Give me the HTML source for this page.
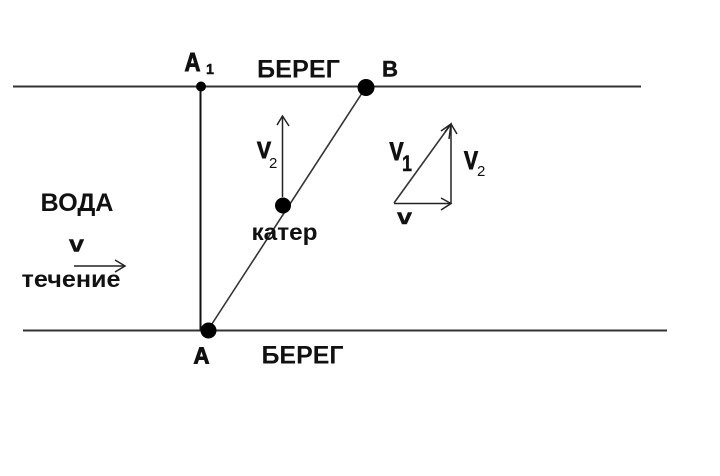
<!DOCTYPE html>
<html><head><meta charset="utf-8">
<style>
html,body{margin:0;padding:0;background:#fff}
svg{display:block}
text{font-family:"Liberation Sans",sans-serif;font-weight:bold;fill:#111}
.s{font-weight:normal}
.h{stroke:#111;stroke-width:.9px}
.m{stroke:#111;stroke-width:.4px}
</style></head>
<body>
<svg width="720" height="476" viewBox="0 0 720 476" xmlns="http://www.w3.org/2000/svg">
<rect width="720" height="476" fill="#fff"/>
<g fill="none" stroke="#333" stroke-width="2">
<line x1="13" y1="86.500" x2="641" y2="86.500"/>
<line x1="23" y1="330.500" x2="667" y2="330.500"/>
</g>
<g fill="none" stroke="#111" stroke-width="2">
<line x1="200.500" y1="87" x2="200.500" y2="330"/>
</g>
<g fill="none" stroke="#333" stroke-width="1.600">
<line x1="208" y1="330" x2="366" y2="87"/>
<line x1="394" y1="203" x2="451" y2="124"/>
</g>
<g fill="none" stroke="#222" stroke-width="1.500">
<line x1="282.500" y1="197" x2="282.500" y2="116"/>
<path d="M277 125 L282.500 116 L289 126"/>
<line x1="451" y1="203" x2="451" y2="124"/>
<path d="M445 132 L451 124 L457 134"/>
<path d="M441 131 L451 124 L449 139"/>
<line x1="394" y1="203.500" x2="451" y2="203.500"/>
<path d="M441 198 L451 203.500 L441 210"/>
<line x1="74" y1="266" x2="125" y2="266"/>
<path d="M115 260 L125 266 L115 272"/>
</g>
<circle cx="201" cy="86.500" r="5" fill="#000"/>
<circle cx="366" cy="87.500" r="8.500" fill="#000"/>
<circle cx="283" cy="205.500" r="8" fill="#000"/>
<circle cx="208.500" cy="330.500" r="8" fill="#000"/>

<text class="h" x="184.500" y="71" font-size="26" textLength="16" lengthAdjust="spacingAndGlyphs">А</text>
<text class="m" x="206" y="74" font-size="15" textLength="8" lengthAdjust="spacingAndGlyphs">1</text>
<text x="257" y="77.500" font-size="25" textLength="83" lengthAdjust="spacingAndGlyphs">БЕРЕГ</text>
<text class="m" x="382" y="76.500" font-size="22" textLength="16" lengthAdjust="spacingAndGlyphs">В</text>
<text class="h" x="257" y="158" font-size="23" textLength="14" lengthAdjust="spacingAndGlyphs">V</text>
<text class="s" x="269" y="168" font-size="15">2</text>
<text x="251.500" y="240" font-size="23" textLength="66" lengthAdjust="spacingAndGlyphs">катер</text>
<text class="h" x="389.500" y="160" font-size="25" textLength="14" lengthAdjust="spacingAndGlyphs">V</text>
<text class="m" x="402" y="171" font-size="22" textLength="10" lengthAdjust="spacingAndGlyphs">1</text>
<text class="h" x="464" y="169" font-size="25" textLength="14" lengthAdjust="spacingAndGlyphs">V</text>
<text class="s" x="477" y="176" font-size="15">2</text>
<text class="m" x="397" y="224" font-size="21" textLength="15" lengthAdjust="spacingAndGlyphs">v</text>
<text x="40.500" y="211" font-size="25" textLength="73" lengthAdjust="spacingAndGlyphs">ВОДА</text>
<text class="m" x="69" y="251.500" font-size="22" textLength="15" lengthAdjust="spacingAndGlyphs">v</text>
<text x="21.500" y="287" font-size="23" textLength="99" lengthAdjust="spacingAndGlyphs">течение</text>
<text class="h" x="193.500" y="363.500" font-size="23" textLength="16" lengthAdjust="spacingAndGlyphs">А</text>
<text x="261.500" y="363.500" font-size="25" textLength="82" lengthAdjust="spacingAndGlyphs">БЕРЕГ</text>
</svg>
</body></html>
